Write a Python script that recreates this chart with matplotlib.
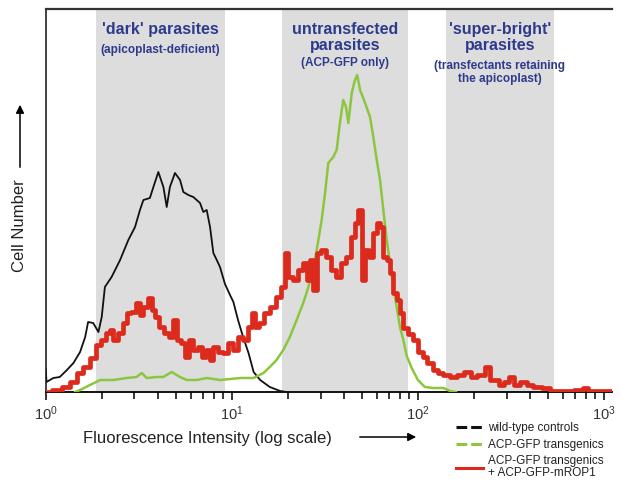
import matplotlib
matplotlib.use("Agg")
import matplotlib.pyplot as plt
from matplotlib.lines import Line2D
from matplotlib.ticker import LogLocator, NullFormatter

plt.rcParams['font.family'] = ['Liberation Sans', 'DejaVu Sans']
plt.rcParams['mathtext.fontset'] = 'custom'
plt.rcParams['mathtext.rm'] = 'Liberation Sans'
plt.rcParams['mathtext.it'] = 'Liberation Sans:italic'
plt.rcParams['mathtext.bf'] = 'Liberation Sans:bold'

# wild-type controls (black)
wt_x = [1.00, 1.01, 1.10, 1.19, 1.30, 1.41, 1.53, 1.63, 1.69, 1.80, 1.92, 2.00,
        2.08, 2.26, 2.51, 2.78, 3.02, 3.21, 3.35, 3.63, 3.79, 4.03, 4.29, 4.47,
        4.65, 4.95, 5.27, 5.49, 5.84, 6.21, 6.75, 7.03, 7.33, 7.64, 7.96, 8.30,
        8.64, 9.19, 9.78, 10.2, 10.8, 11.5, 12.3, 13.1, 14.2, 16.0, 18.2, 19.7]
wt_y = [23, 10, 14, 15, 22, 29, 40, 55, 70, 69, 60, 75,
        105, 115, 132, 152, 165, 182, 192, 194, 205, 220, 205, 185,
        205, 219, 212, 200, 197, 195, 189, 180, 182, 165, 139, 132,
        125, 108, 97, 90, 72, 55, 39, 20, 12, 5, 1, 0]

# ACP-GFP transgenics (green)
gfp_x = [1.44, 1.53, 1.73, 1.96, 2.31, 2.72, 3.08, 3.28, 3.49, 3.95, 4.28, 4.75,
         5.27, 5.72, 6.48, 7.33, 8.64, 11.1, 13.1, 14.8, 16.0, 17.4, 18.9, 20.5,
         22.3, 24.2, 25.8, 27.4, 28.6, 30.4, 31.7, 33.0, 35.1, 36.6, 38.1, 39.7,
         41.1, 42.3, 44.1, 45.9, 47.2, 48.9, 52.0, 55.3, 57.6, 60.1, 62.6, 65.2,
         68.0, 70.8, 73.8, 76.9, 80.1, 83.5, 87.1, 92.6, 100, 109, 121, 137, 149, 160]
gfp_y = [0, 2, 7, 12, 12, 14, 15, 19, 14, 15, 15, 20,
         15, 12, 12, 14, 12, 14, 14, 19, 25, 32, 42, 55,
         72, 89, 105, 125, 142, 172, 199, 229, 235, 242, 269, 292,
         285, 269, 299, 312, 317, 302, 289, 275, 255, 232, 212, 182,
         152, 129, 105, 85, 65, 52, 36, 24, 12, 5, 4, 4, 1, 0]

# ACP-GFP transgenics + ACP-GFP-mROP1 (red)
rop_x = [1.01, 1.15, 1.30, 1.41, 1.53, 1.66, 1.80, 1.92, 2.04, 2.17, 2.26, 2.36,
         2.51, 2.67, 2.78, 2.96, 3.15, 3.28, 3.42, 3.63, 3.79, 3.95, 4.20, 4.47,
         4.75, 4.95, 5.16, 5.49, 5.72, 6.09, 6.34, 6.75, 7.03, 7.48, 7.80, 8.12,
         8.64, 9.19, 9.78, 10.4, 11.1, 11.8, 12.5, 13.1, 13.6, 14.5, 15.4, 16.7,
         17.8, 18.9, 19.7, 20.5, 21.9, 23.3, 24.7, 25.8, 26.9, 28.0, 29.2, 31.0,
         33.0, 35.1, 37.4, 39.7, 42.3, 45.0, 46.9, 48.9, 50.9, 53.1, 56.5, 58.8,
         61.3, 63.9, 66.6, 69.3, 72.3, 75.3, 78.5, 81.8, 85.2, 90.7, 96.5, 103,
         109, 116, 124, 131, 143, 155, 168, 187, 198, 220, 239, 249,
         265, 282, 300, 319, 340, 368, 400, 435, 492, 534, 630, 743,
         791, 841, 1077]
rop_y = [0, 2, 5, 10, 19, 25, 34, 47, 52, 59, 62, 52,
         59, 69, 79, 80, 89, 77, 85, 94, 82, 75, 65, 59,
         55, 72, 52, 49, 35, 52, 42, 45, 35, 42, 32, 45,
         40, 39, 49, 42, 55, 52, 65, 79, 65, 69, 79, 85,
         95, 105, 139, 115, 112, 122, 129, 112, 132, 102, 139, 142,
         135, 122, 115, 129, 135, 155, 169, 182, 112, 142, 135, 159,
         169, 165, 135, 132, 119, 99, 92, 79, 64, 58, 52, 40,
         35, 29, 22, 19, 17, 15, 17, 20, 15, 17, 25, 12,
         12, 7, 10, 15, 7, 10, 7, 5, 4, 1, 1, 2,
         4, 1, 1]

# shaded gates
gate_lo = [1.86, 18.5, 142]
gate_hi = [9.2, 88.4, 537]
gate_title = ["'dark' parasites", "untransfected\nparasites", "'super-bright'\nparasites"]
gate_sub = ["(apicoplast-deficient)", "(ACP-GFP only)",
            "(transfectants retaining\nthe apicoplast)"]
gate_sub_y = [0.893, 0.859, 0.835]

series_labels = ["wild-type controls", "ACP-GFP transgenics",
                 "ACP-GFP transgenics\n+ ACP-GFP-mROP1"]

BLACK = '#111111'
GREEN = '#8cc63f'
RED = '#dc2a1c'
BLUE = '#2e3a8c'
GRAY = '#dddddd'

W, H = 621, 483
fig = plt.figure(figsize=(W / 100, H / 100), dpi=100)
ax = fig.add_axes([45.7 / W, 91 / H, (612 - 45.7) / W, 383 / H])

for lo, hi in zip(gate_lo, gate_hi):
    ax.axvspan(lo, hi, color=GRAY, lw=0, zorder=0)

ax.plot(wt_x, wt_y, color=BLACK, lw=1.3, zorder=3)
ax.plot(gfp_x, gfp_y, color=GREEN, lw=1.8, zorder=4)
ax.plot(rop_x, rop_y, color=RED, lw=3.4, drawstyle='steps-mid', zorder=5)

ax.set_xscale('log')
ax.set_xlim(1, 10 ** ((612 - 45.7) / 186.1))
ax.set_ylim(0, 383)
ax.set_yticks([])

ax.xaxis.set_major_locator(LogLocator(base=10, numticks=10))
ax.xaxis.set_minor_locator(LogLocator(base=10, subs=range(2, 10), numticks=20))
ax.xaxis.set_minor_formatter(NullFormatter())
ax.tick_params(axis='x', which='major', direction='out', length=6, width=1.1,
               labelsize=10.5, labelcolor='#333333', pad=3)
ax.tick_params(axis='x', which='minor', direction='out', length=5, width=1.1)

ax.spines['right'].set_visible(False)
ax.spines['top'].set_color('#333333')
ax.spines['top'].set_linewidth(1.6)
ax.spines['left'].set_color('#333333')
ax.spines['left'].set_linewidth(1.3)
ax.spines['bottom'].set_linewidth(1.3)

for lo, hi, t, s, sy in zip(gate_lo, gate_hi, gate_title, gate_sub, gate_sub_y):
    xc = (lo * hi) ** 0.5
    ax.text(xc, 0.966, t, transform=ax.get_xaxis_transform(), ha='center', va='top',
            fontsize=11.5, fontweight='bold', color=BLUE, linespacing=1.1)
    ax.text(xc, sy, s, transform=ax.get_xaxis_transform(), ha='center', va='center',
            fontsize=8.5, fontweight='bold', color=BLUE, linespacing=1.15)

# axis labels with arrows
fig.text(20 / W, 1 - 226 / H, "Cell Number", rotation=90, ha='center', va='center',
         fontsize=12, color='#222222')
fig.add_artist(plt.Annotation('', xy=(20 / W, 1 - 102 / H), xytext=(20 / W, 1 - 170 / H),
                              xycoords='figure fraction', textcoords='figure fraction',
                              arrowprops=dict(arrowstyle='-|>', color='black', lw=1.1,
                                              mutation_scale=12)))
fig.text(207 / W, 1 - 438 / H, "Fluorescence Intensity (log scale)", ha='center',
         va='center', fontsize=12, color='#222222')
fig.add_artist(plt.Annotation('', xy=(419 / W, 1 - 437 / H), xytext=(357 / W, 1 - 437 / H),
                              xycoords='figure fraction', textcoords='figure fraction',
                              arrowprops=dict(arrowstyle='-|>', color='black', lw=1.1,
                                              mutation_scale=12)))

handles = [Line2D([], [], color=BLACK, lw=2.2, linestyle=(0, (3.5, 1.3))),
           Line2D([], [], color=GREEN, lw=2.2, linestyle=(0, (3.5, 1.3))),
           Line2D([], [], color=RED, lw=2.2)]
leg = fig.legend(handles, series_labels, loc='upper left',
                 bbox_to_anchor=(456 / W, 1 - 422 / H), frameon=False,
                 borderpad=0, borderaxespad=0, handlelength=2.3, handletextpad=0.45,
                 labelspacing=0.4, prop={'size': 8.5})
for txt in leg.get_texts():
    txt.set_color('#222222')
    txt.set_linespacing(1.0)

fig.savefig("out.png", dpi=100)
